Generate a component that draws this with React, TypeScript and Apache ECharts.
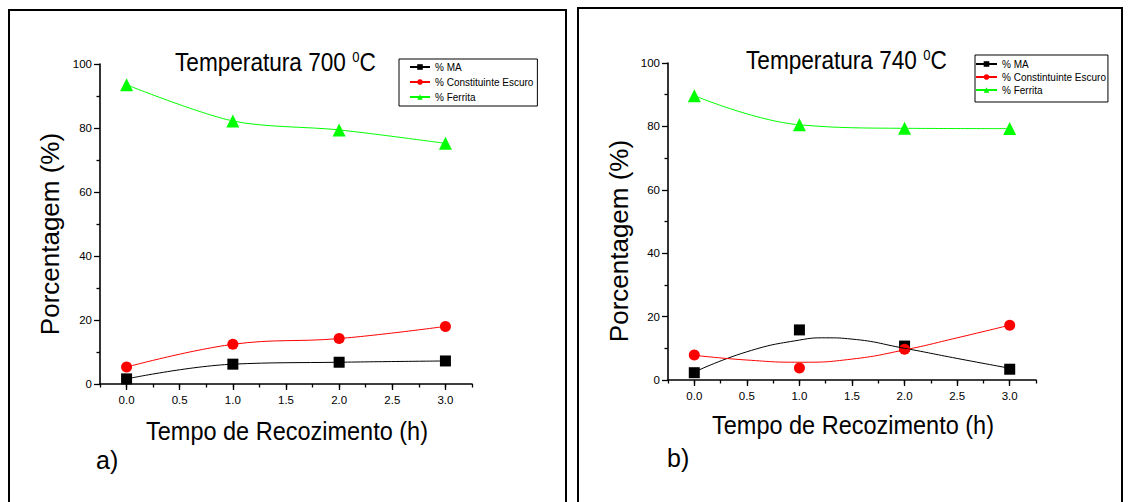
import React, { useEffect, useRef } from "react";
import * as echarts from "echarts";

const FONT = "'Liberation Sans', Arial, Helvetica, sans-serif";

// x tick labels (h)
const xTickValues = [0, 0.5, 1, 1.5, 2, 2.5, 3];

// ---- Panel a) Temperatura 700 °C ----
const aMA = [[0, 1.6], [1, 6.2], [2, 6.8], [3, 7.2]];
const aEscuro = [[0, 5.3], [1, 12.4], [2, 14.2], [3, 18.0]];
const aFerrita = [[0, 93.5], [1, 82.2], [2, 79.4], [3, 75.2]];

// ---- Panel b) Temperatura 740 °C (measured points) ----
const bMA = [[0, 2.3], [1, 15.8], [2, 10.7], [3, 3.4]];
const bEscuro = [[0, 7.9], [1, 3.8], [2, 9.7], [3, 17.3]];
const bFerrita = [[0, 89.7], [1, 80.5], [2, 79.4], [3, 79.3]];
// ---- Panel b) fitted curves ----
const bMAFit = [[0, 2.5], [0.5, 8.9], [1, 12.6], [1.25, 13.3], [1.5, 12.9], [2, 10.0], [2.5, 6.8], [3, 3.7]];
const bEscuroFit = [[0, 7.8], [0.5, 6.3], [1, 5.6], [1.5, 6.6], [2, 9.5], [2.5, 13.3], [3, 17.3]];

const legendA = ["% MA", "% Constituinte Escuro", "% Ferrita"];
const legendB = ["% MA", "% Constintuinte Escuro", "% Ferrita"];

const BLACK = "#000000";
const RED = "#ff0000";
const GREEN = "#00ff00";

function mkXAxes(gi: number) {
  return [
    {
      type: "value",
      gridIndex: gi,
      position: "bottom",
      min: -0.25,
      max: 3.25,
      interval: 0.25,
      axisLine: { show: true, onZero: false, lineStyle: { color: BLACK, width: 1.6 } },
      axisTick: { show: true, length: 3.5, lineStyle: { color: BLACK, width: 1.3 } },
      axisLabel: { show: false },
      splitLine: { show: false },
    },
    {
      type: "value",
      gridIndex: gi,
      position: "bottom",
      min: -0.25,
      max: 3.25,
      axisLine: { show: false, onZero: false },
      axisTick: { show: true, length: 6, customValues: xTickValues, lineStyle: { color: BLACK, width: 1.3 } },
      axisLabel: {
        show: true,
        customValues: xTickValues,
        formatter: (v: number) => v.toFixed(1),
        margin: 10,
        fontSize: 11.5,
        color: BLACK,
        fontFamily: FONT,
      },
      splitLine: { show: false },
    },
  ];
}

function mkYAxis(gi: number) {
  return {
    type: "value",
    gridIndex: gi,
    min: 0,
    max: 100,
    interval: 20,
    axisLine: { show: true, onZero: false, lineStyle: { color: BLACK, width: 1.6 } },
    axisTick: { show: true, length: 6, lineStyle: { color: BLACK, width: 1.3 } },
    minorTick: { show: true, splitNumber: 2, length: 3.5, lineStyle: { color: BLACK, width: 1.3 } },
    axisLabel: { margin: 8, fontSize: 11.5, color: BLACK, fontFamily: FONT },
    splitLine: { show: false },
    minorSplitLine: { show: false },
  };
}

function lineSeries(name: string, data: number[][], color: string, symbol: string, size: number, xi: number, yi: number, showSymbol = true, smooth: any = 0.4) {
  return {
    type: "line",
    name,
    xAxisIndex: xi,
    yAxisIndex: yi,
    data,
    smooth,
    symbol,
    symbolSize: size,
    showSymbol,
    itemStyle: { color },
    lineStyle: { color, width: 1 },
    emphasis: { disabled: true },
  };
}

function scatterSeries(name: string, data: number[][], color: string, symbol: string, size: number, xi: number, yi: number) {
  return {
    type: "scatter",
    name,
    xAxisIndex: xi,
    yAxisIndex: yi,
    data,
    symbol,
    symbolSize: size,
    itemStyle: { color, opacity: 1 },
    emphasis: { disabled: true },
  };
}

function titleText(x: number, y: number, temp: string) {
  return {
    type: "text",
    x,
    y,
    scaleX: 0.87,
    style: {
      text: `{a|Temperatura ${temp} }{s|0}{a|C}`,
      align: "left",
      verticalAlign: "middle",
      fill: BLACK,
      rich: {
        a: { fontSize: 26, fontFamily: FONT, fill: BLACK, verticalAlign: "middle" },
        s: { fontSize: 15, fontFamily: FONT, fill: BLACK, verticalAlign: "top" },
      },
    },
    z: 10,
  };
}

function bigText(x: number, y: number, text: string, opts: any = {}) {
  return {
    type: "text",
    x,
    y,
    rotation: opts.rotation || 0,
    scaleX: opts.scaleX || 1,
    style: {
      text,
      fontSize: opts.fontSize || 25,
      fontFamily: FONT,
      fill: BLACK,
      align: opts.align || "center",
      verticalAlign: "middle",
    },
    z: 10,
  };
}

export default function App() {
  const ref = useRef<HTMLDivElement>(null);

  useEffect(() => {
    if (!ref.current) return;
    const chart = echarts.init(ref.current, undefined, { renderer: "svg" });
    const option: any = {
      animation: false,
      backgroundColor: "#ffffff",
      grid: [
        { left: 100, top: 64, width: 372, height: 320 },
        { left: 668, top: 63, width: 368, height: 317 },
      ],
      xAxis: [...mkXAxes(0), ...mkXAxes(1)],
      yAxis: [mkYAxis(0), mkYAxis(1)],
      legend: [
        {
          left: 399,
          top: 59,
          orient: "vertical",
          data: legendA,
          itemWidth: 20,
          itemHeight: 7,
          itemGap: 5,
          padding: [3, 4, 4, 10],
          borderColor: BLACK,
          borderWidth: 1,
          backgroundColor: "#fff",
          selectedMode: false,
          textStyle: { fontSize: 10, color: BLACK, fontFamily: FONT },
        },
        {
          left: 975,
          top: 55,
          orient: "vertical",
          data: legendB,
          itemWidth: 21,
          itemHeight: 7,
          itemGap: 3,
          padding: [4, 2, 7, 0],
          borderColor: BLACK,
          borderWidth: 1,
          backgroundColor: "#fff",
          selectedMode: false,
          textStyle: { fontSize: 10, color: BLACK, fontFamily: FONT },
        },
      ],
      series: [
        // panel a
        lineSeries("% MA", aMA, BLACK, "rect", 11, 0, 0),
        lineSeries("% Constituinte Escuro", aEscuro, RED, "circle", 11, 0, 0),
        lineSeries("% Ferrita", aFerrita, GREEN, "triangle", 13, 0, 0, true, 0.3),
        // panel b curves
        lineSeries("% MA", bMAFit, BLACK, "rect", 11, 2, 1, false, 0.5),
        lineSeries("% Constintuinte Escuro", bEscuroFit, RED, "circle", 11, 2, 1, false, 0.5),
        lineSeries("% Ferrita", bFerrita, GREEN, "triangle", 13, 2, 1, true, 0.4),
        // panel b points
        scatterSeries("pontos MA 740", bMA, BLACK, "rect", 11, 2, 1),
        scatterSeries("pontos Escuro 740", bEscuro, RED, "circle", 11, 2, 1),
      ],
      graphic: [
        {
          type: "rect",
          shape: { x: 9, y: 10, width: 557, height: 520 },
          style: { fill: "none", stroke: BLACK, lineWidth: 2 },
          z: 0,
        },
        {
          type: "rect",
          shape: { x: 578, y: 8, width: 544, height: 520 },
          style: { fill: "none", stroke: BLACK, lineWidth: 2 },
          z: 0,
        },
        titleText(175, 62, "700"),
        titleText(746, 60, "740"),
        bigText(50, 234, "Porcentagem (%)", { rotation: Math.PI / 2, fontSize: 26 }),
        bigText(619, 241, "Porcentagem (%)", { rotation: Math.PI / 2, fontSize: 26 }),
        bigText(287, 431, "Tempo de Recozimento (h)", { scaleX: 0.94 }),
        bigText(853, 425, "Tempo de Recozimento (h)", { scaleX: 0.94 }),
        bigText(96, 460, "a)", { align: "left" }),
        bigText(667, 458, "b)", { align: "left" }),
      ],
    };
    chart.setOption(option);
    return () => chart.dispose();
  }, []);

  return (
    <div
      ref={ref}
      style={{ position: "fixed", left: 0, top: 0, width: 1128, height: 502, background: "#fff" }}
    />
  );
}
